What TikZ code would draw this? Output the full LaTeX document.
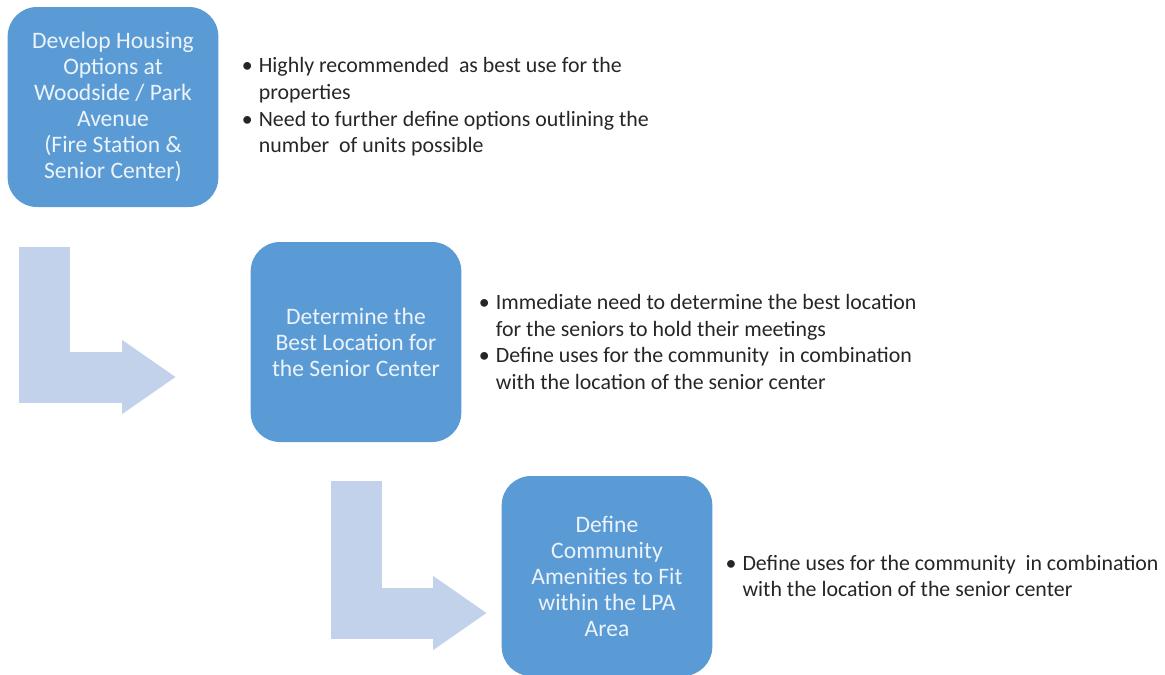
\documentclass[tikz,border=0pt]{standalone}
\usepackage{fontspec}
\setmainfont{Carlito}
\usetikzlibrary{positioning, calc, arrows.meta}

\definecolor{boxblue}{RGB}{91,155,213}
\definecolor{boxtext}{RGB}{236,243,250}
\definecolor{bentblue}{RGB}{193,210,234}

% bullet and hanging indent for the note lines
\newcommand{\bul}{\makebox[12.75pt][l]{\textbullet}}
\newcommand{\hang}{\hspace*{12.75pt}}

\begin{document}
\begin{tikzpicture}[
    x=0.75pt, y=-0.75pt,
    stepbox/.style={fill=boxblue, text=boxtext, rounded corners=22pt, minimum width=158pt, minimum height=150pt, align=center, inner sep=0pt, font=\fontsize{17.7}{19.5}\selectfont},
    notes/.style={text=black!85, align=left, inner sep=0pt, font=\fontsize{16.4}{20}\selectfont},
    bentarrow/.style={draw=bentblue, line width=38.25pt, line join=miter, -{Triangle[length=40pt, width=55.5pt, line width=0.8pt]}}
    ]

    \useasboundingbox (0,0) rectangle (1165,675);

    \node[stepbox] (housing) at (113,107) {Develop Housing\\Options at\\Woodside / Park\\Avenue\\(Fire Station \&\\Senior Center)};
    \node[stepbox] (location) at (356,342) {Determine the\\Best Location for\\the Senior Center};
    \node[stepbox] (amenities) at (607,576) {Define\\Community\\Amenities to Fit\\within the LPA\\Area};

    \node[notes, right=17.25pt of housing] (housingnotes) {\bul Highly recommended~ as best use for the\\ \hang properties\\ \bul Need to further define options outlining the\\ \hang number~ of units possible};
    \node[notes, right=12.75pt of location] (locationnotes) {\bul Immediate need to determine the best location\\ \hang for the seniors to hold their meetings\\ \bul Define uses for the community~ in combination\\ \hang with the location of the senior center};
    \node[notes, right=9.5pt of amenities] (amenitiesnotes) {\bul Define uses for the community~ in combination\\ \hang with the location of the senior center};

    \draw[bentarrow] ($(housing.south west)+(37,40)$) |- ($(location.west)+(-75,35)$);
    \draw[bentarrow] ($(location.south)+(0,39)$) |- ($(amenities.west)+(-15,37)$);

\end{tikzpicture}
\end{document}
